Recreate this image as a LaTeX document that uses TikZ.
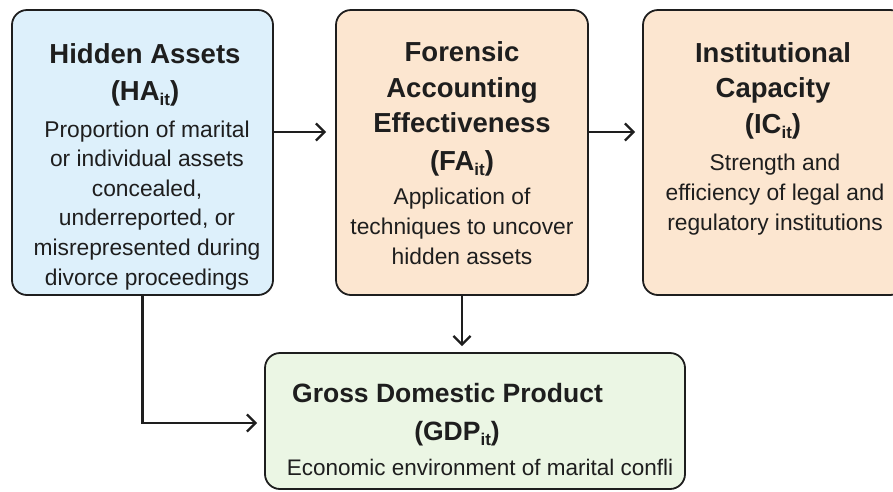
\documentclass[tikz,border=0pt]{standalone}
\usepackage{fontspec}
\setmainfont{Liberation Sans}
\usetikzlibrary{arrows.meta}

\definecolor{inkline}{HTML}{1E1E1E}
\definecolor{hafill}{HTML}{DDF0FB}
\definecolor{fafill}{HTML}{FCE6D0}
\definecolor{gdpfill}{HTML}{EBF6E4}

% lowered "it" index used in the variable symbols
\newcommand\subit{\raisebox{-5pt}{\fontsize{17}{17}\selectfont it}}

\begin{document}
\begin{tikzpicture}[x=1pt,y=-1pt,
  card/.style={draw=inkline, line width=1.8pt, rounded corners=15pt, inner sep=0pt},
  head/.style={font=\fontsize{27.5}{35.5}\selectfont\bfseries, align=center, anchor=base, inner sep=0pt, text=inkline},
  body/.style={font=\fontsize{22.8}{29.6}\selectfont, align=center, anchor=base, inner sep=0pt, text=inkline},
  link/.style={draw=inkline, line width=2.3pt, -{Straight Barb[length=8.5pt,width=17pt]}}
]
\useasboundingbox (0,0) rectangle (893,491);
\fill[white] (0,0) rectangle (893,491);

% boxes
\node[card, fill=hafill, minimum width=261pt, minimum height=285pt] (ha) at (142.5,152.5) {};
\node[card, fill=fafill, minimum width=252pt, minimum height=285pt] (fa) at (462,152.5) {};
\node[card, fill=fafill, minimum width=262pt, minimum height=285pt] (ic) at (774,152.5) {};
\node[card, fill=gdpfill, minimum width=420pt, minimum height=136pt] (gdp) at (475,421) {};

% texts (each node is placed by the baseline of its last line)
\node[head] (haT) at (145,100) {Hidden Assets\\[1pt](HA\subit)};
\node[body] (haB) at (147,285) {Proportion of marital\\or individual assets\\concealed,\\underreported, or\\misrepresented during\\divorce proceedings};

\node[head] (faT) at (462,170) {Forensic\\Accounting\\Effectiveness\\[2pt](FA\subit)};
\node[body] (faB) at (462,264) {Application of\\techniques to uncover\\hidden assets};

\node[head] (icT) at (773,133) {Institutional\\Capacity\\(IC\subit)};
\node[body] (icB) at (775,230) {Strength and\\efficiency of legal and\\regulatory institutions};

\node[head, font=\fontsize{26.5}{35.5}\selectfont\bfseries] (gdpT) at (447.5,402) {Gross Domestic Product};
\node[head, font=\fontsize{26.5}{35.5}\selectfont\bfseries] (gdpS) at (457,440) {(GDP\subit)};
\node[body, font=\fontsize{22.5}{29.6}\selectfont] (gdpB) at (480,475) {Economic environment of marital confli};

% connectors
\coordinate (rowA) at (0,132);
\draw[link] (ha.east |- rowA) -- ([xshift=-9pt]fa.west |- rowA);
\draw[link] (fa.east |- rowA) -- ([xshift=-7pt]ic.west |- rowA);
\draw[link] (fa.south) -- ([yshift=6pt]gdp.north -| fa.south);
\coordinate (rowB) at (0,423);
\draw[link] (ha.south) |- ([xshift=-7pt]gdp.west |- rowB);
\end{tikzpicture}
\end{document}
